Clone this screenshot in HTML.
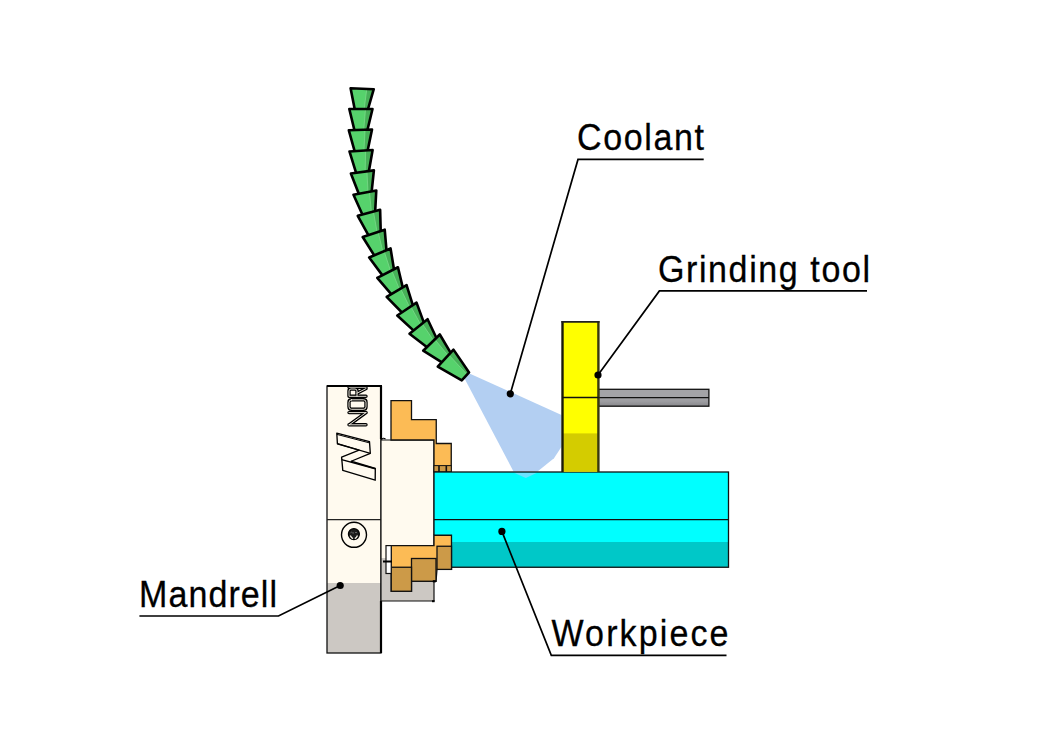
<!DOCTYPE html>
<html><head><meta charset="utf-8"><style>
html,body{margin:0;padding:0;background:#fff;width:1052px;height:744px;overflow:hidden}
svg{display:block}
text{font-family:"Liberation Sans",sans-serif;}
</style></head><body>
<svg width="1052" height="744" viewBox="0 0 1052 744">
<rect width="1052" height="744" fill="#fff"/>
<!-- mandrel -->
<rect x="327" y="386" width="54" height="267" fill="#fffaef"/>
<rect x="327" y="583" width="54" height="70" fill="#ccc8c3"/>
<rect x="327" y="386" width="54" height="267" fill="none" stroke="#111" stroke-width="1.3"/>
<line x1="381" y1="386" x2="381" y2="439" stroke="#000" stroke-width="2.2"/>
<line x1="381" y1="601" x2="381" y2="653" stroke="#000" stroke-width="2.2"/>
<line x1="327" y1="519.6" x2="434" y2="519.6" stroke="#222" stroke-width="1.2"/>
<!-- second block -->
<rect x="381" y="440" width="53" height="118" fill="#fffaef"/>
<rect x="381" y="558" width="53" height="43" fill="#ccc8c3"/>
<polyline points="381,440 434,440 434,535" fill="none" stroke="#111" stroke-width="1.2"/>
<polyline points="381,601 434,601 434,581" fill="none" stroke="#111" stroke-width="1.2"/>
<line x1="381" y1="439" x2="381" y2="601" stroke="#111" stroke-width="1.2"/>
<!-- logo N -->
<polygon points="336.8,433.2 369.5,441.7 370.3,453.3 351.2,461.25 375.3,468.5 375.2,480.2 342.8,470.4 341.6,457.1 359.1,450.2 337.4,443.75" fill="none" stroke="#000" stroke-width="1.35" stroke-linejoin="round"/>
<polyline points="337.4,443.75 370.3,453.3" stroke="#000" stroke-width="1.3"/>
<polyline points="341.6,459.6 375.3,468.8" stroke="#000" stroke-width="1.5"/>
<polyline points="336.9,434.4 369.5,442.9" stroke="#000" stroke-width="1.0"/>
<defs><clipPath id="mc"><rect x="327" y="386" width="54" height="60"/></clipPath></defs>
<g clip-path="url(#mc)" fill="none" stroke-linejoin="round" stroke-linecap="round"><path d="M366,412.6 H349 M366,412.6 L349.2,424.8 M366,424.8 H349 M351.5,399.8 H363.5 Q366,399.8 366,402.3 V406.8 Q366,409.3 363.5,409.3 H351.5 Q349,409.3 349,406.8 V402.3 Q349,399.8 351.5,399.8 Z M366,396.3 H349 V391 Q349,389 351,389 H355 Q357,389 357,391 V396.3 M357,393.2 L366,388.6 M366,387.2 H349" stroke="#000" stroke-width="3.4"/><path d="M366,412.6 H349 M366,412.6 L349.2,424.8 M366,424.8 H349 M351.5,399.8 H363.5 Q366,399.8 366,402.3 V406.8 Q366,409.3 363.5,409.3 H351.5 Q349,409.3 349,406.8 V402.3 Q349,399.8 351.5,399.8 Z M366,396.3 H349 V391 Q349,389 351,389 H355 Q357,389 357,391 V396.3 M357,393.2 L366,388.6 M366,387.2 H349" stroke="#fffaef" stroke-width="0.9"/></g>
<line x1="327" y1="386" x2="382" y2="386" stroke="#000" stroke-width="2.2"/>
<!-- screw -->
<circle cx="354" cy="534.8" r="12.5" fill="none" stroke="#000" stroke-width="1.4"/>
<circle cx="353.9" cy="534.1" r="5.5" fill="#1c1c1c" stroke="#000" stroke-width="1.2"/>
<path d="M350.3,535.4 Q351.2,537.8 353,538.6 M357.5,535.4 Q356.6,537.8 354.8,538.6" stroke="#f4f0e6" stroke-width="1.3" fill="none"/>
<path d="M350.5,532.8 q1,-1.2 2,0 M353.2,532.2 v1.5 M355,532.8 q1,-1.2 2,0" stroke="#999" stroke-width="0.6" fill="none"/>
<!-- orange upper -->
<polygon points="391,400.6 411.5,400.6 411.5,419.6 436.25,419.6 436.25,443.5 451.25,443.5 451.25,471.9 434,471.9 434,440 391,440" fill="#fcbb55" stroke="#111" stroke-width="1.3"/>
<rect x="434" y="465.6" width="17.25" height="6.3" fill="#cc9a48" stroke="#111" stroke-width="1"/>
<line x1="439" y1="466" x2="439" y2="472" stroke="#111" stroke-width="1.6"/>
<line x1="446.3" y1="466" x2="446.3" y2="472" stroke="#111" stroke-width="1.6"/>
<polygon points="464,377.5 469.5,373.5 561.5,415 561.5,446.7 554,458.3 537.5,471.5 513.5,471.5" fill="#b3cff2"/>
<!-- workpiece -->
<rect x="434" y="472" width="294.5" height="95.25" fill="#00ffff"/>
<rect x="434" y="542" width="294.5" height="25.25" fill="#00c8c8"/>
<polygon points="513.5,472.6 537.5,472.6 525.8,478" fill="#6ae3ff"/>
<rect x="434" y="472" width="294.5" height="95.25" fill="none" stroke="#111" stroke-width="1.3"/>
<line x1="434" y1="519.6" x2="728.5" y2="519.6" stroke="#111" stroke-width="1.3"/>
<!-- orange lower -->
<polygon points="434,535.25 451.5,535.25 451.5,569.4 437,569.4 436,581.25 411.5,581.25 411.5,591.25 391.25,591.25 391.25,545.6 434,545.6" fill="#fcbb55" stroke="#111" stroke-width="1.3"/>
<rect x="437" y="546.25" width="14.5" height="23.15" fill="#cc9a48" stroke="#111" stroke-width="1.3"/>
<rect x="411.5" y="558.5" width="24.5" height="22.75" fill="#cc9a48" stroke="#111" stroke-width="1.3"/>
<rect x="391.25" y="567.25" width="20.25" height="24" fill="#cc9a48" stroke="#111" stroke-width="1.3"/>
<rect x="386" y="545.6" width="5.25" height="27.9" fill="#fff" stroke="#111" stroke-width="1.2"/>
<line x1="383" y1="561.5" x2="392" y2="561.5" stroke="#000" stroke-width="2"/>
<rect x="432.8" y="580.2" width="3" height="2.2" fill="#000"/>
<rect x="432" y="600.2" width="2.6" height="2" fill="#000"/>
<path d="M381.5,439.6 Q383,437.2 385.5,439" stroke="#000" stroke-width="1.2" fill="none"/>
<!-- grinding tool -->
<rect x="598.5" y="389.3" width="110.4" height="8.25" fill="#a3a3a7"/>
<defs><linearGradient id="gb" x1="0" y1="0" x2="0" y2="1"><stop offset="0" stop-color="#a4a4a8"/><stop offset="0.45" stop-color="#9c9ca0"/><stop offset="1" stop-color="#88888c"/></linearGradient></defs>
<rect x="598.5" y="397.55" width="110.4" height="8.65" fill="url(#gb)"/>
<rect x="598.5" y="389.3" width="110.4" height="16.9" fill="none" stroke="#111" stroke-width="1.3"/>
<line x1="598.5" y1="397.55" x2="708.9" y2="397.55" stroke="#111" stroke-width="1.3"/>
<rect x="562" y="321.4" width="36.7" height="150.2" fill="#ffff00"/>
<rect x="562" y="433.4" width="36.7" height="38.2" fill="#d4cc00"/>
<line x1="562.5" y1="321" x2="562.5" y2="472" stroke="#1a1a0a" stroke-width="2.4"/>
<line x1="598.4" y1="321" x2="598.4" y2="472" stroke="#38380e" stroke-width="2.4"/>
<line x1="561.5" y1="321.8" x2="599.5" y2="321.8" stroke="#222" stroke-width="1.8"/>
<line x1="562" y1="397.5" x2="598.7" y2="397.5" stroke="#111" stroke-width="1.3"/>
<!-- spray -->

<!-- nozzle -->
<g><polygon points="350.58,88.19 373.76,89.21 366.45,114.51 355.66,114.04" fill="#56d26c"/><polygon points="366.81,88.90 373.76,89.21 366.45,114.51 363.48,114.38" fill="#47b058"/><line x1="366.81" y1="88.90" x2="363.48" y2="114.38" stroke="#80dc8e" stroke-width="0.7"/><polygon points="350.58,88.19 373.76,89.21 366.45,114.51 355.66,114.04" fill="none" stroke="#000" stroke-width="2.6" stroke-linejoin="round"/></g>
<g><polygon points="349.30,109.00 372.50,109.00 366.30,134.60 355.50,134.60" fill="#56d26c"/><polygon points="365.54,109.00 372.50,109.00 366.30,134.60 363.33,134.60" fill="#47b058"/><line x1="365.54" y1="109.00" x2="363.33" y2="134.60" stroke="#80dc8e" stroke-width="0.7"/><polygon points="349.30,109.00 372.50,109.00 366.30,134.60 355.50,134.60" fill="none" stroke="#000" stroke-width="2.6" stroke-linejoin="round"/></g>
<g><polygon points="348.83,130.28 372.02,129.52 366.67,155.31 355.87,155.66" fill="#56d26c"/><polygon points="365.06,129.75 372.02,129.52 366.67,155.31 363.70,155.40" fill="#47b058"/><line x1="365.06" y1="129.75" x2="363.70" y2="155.40" stroke="#80dc8e" stroke-width="0.7"/><polygon points="348.83,130.28 372.02,129.52 366.67,155.31 355.87,155.66" fill="none" stroke="#000" stroke-width="2.6" stroke-linejoin="round"/></g>
<g><polygon points="349.47,151.43 372.62,149.97 368.04,175.91 357.26,176.59" fill="#56d26c"/><polygon points="365.67,150.41 372.62,149.97 368.04,175.91 365.08,176.10" fill="#47b058"/><line x1="365.67" y1="150.41" x2="365.08" y2="176.10" stroke="#80dc8e" stroke-width="0.7"/><polygon points="349.47,151.43 372.62,149.97 368.04,175.91 357.26,176.59" fill="none" stroke="#000" stroke-width="2.6" stroke-linejoin="round"/></g>
<g><polygon points="350.89,173.48 373.89,170.41 371.13,196.60 360.43,198.03" fill="#56d26c"/><polygon points="366.99,171.33 373.89,170.41 371.13,196.60 368.19,197.00" fill="#47b058"/><line x1="366.99" y1="171.33" x2="368.19" y2="197.00" stroke="#80dc8e" stroke-width="0.7"/><polygon points="350.89,173.48 373.89,170.41 371.13,196.60 360.43,198.03" fill="none" stroke="#000" stroke-width="2.6" stroke-linejoin="round"/></g>
<g><polygon points="353.48,194.72 376.28,190.45 374.90,216.76 364.28,218.74" fill="#56d26c"/><polygon points="369.44,191.73 376.28,190.45 374.90,216.76 371.98,217.30" fill="#47b058"/><line x1="369.44" y1="191.73" x2="371.98" y2="217.30" stroke="#80dc8e" stroke-width="0.7"/><polygon points="353.48,194.72 376.28,190.45 374.90,216.76 364.28,218.74" fill="none" stroke="#000" stroke-width="2.6" stroke-linejoin="round"/></g>
<g><polygon points="357.74,215.82 380.13,209.73 380.86,236.06 370.43,238.90" fill="#56d26c"/><polygon points="373.41,211.56 380.13,209.73 380.86,236.06 377.99,236.84" fill="#47b058"/><line x1="373.41" y1="211.56" x2="377.99" y2="236.84" stroke="#80dc8e" stroke-width="0.7"/><polygon points="357.74,215.82 380.13,209.73 380.86,236.06 370.43,238.90" fill="none" stroke="#000" stroke-width="2.6" stroke-linejoin="round"/></g>
<g><polygon points="362.72,237.04 384.72,229.68 386.97,255.93 376.72,259.35" fill="#56d26c"/><polygon points="378.12,231.89 384.72,229.68 386.97,255.93 384.15,256.87" fill="#47b058"/><line x1="378.12" y1="231.89" x2="384.15" y2="256.87" stroke="#80dc8e" stroke-width="0.7"/><polygon points="362.72,237.04 384.72,229.68 386.97,255.93 376.72,259.35" fill="none" stroke="#000" stroke-width="2.6" stroke-linejoin="round"/></g>
<g><polygon points="369.19,257.46 390.56,248.43 394.81,274.43 384.86,278.63" fill="#56d26c"/><polygon points="384.15,251.14 390.56,248.43 394.81,274.43 392.07,275.58" fill="#47b058"/><line x1="384.15" y1="251.14" x2="392.07" y2="275.58" stroke="#80dc8e" stroke-width="0.7"/><polygon points="369.19,257.46 390.56,248.43 394.81,274.43 384.86,278.63" fill="none" stroke="#000" stroke-width="2.6" stroke-linejoin="round"/></g>
<g><polygon points="377.28,277.79 397.95,267.26 404.05,292.88 394.43,297.79" fill="#56d26c"/><polygon points="391.75,270.42 397.95,267.26 404.05,292.88 401.41,294.23" fill="#47b058"/><line x1="391.75" y1="270.42" x2="401.41" y2="294.23" stroke="#80dc8e" stroke-width="0.7"/><polygon points="377.28,277.79 397.95,267.26 404.05,292.88 394.43,297.79" fill="none" stroke="#000" stroke-width="2.6" stroke-linejoin="round"/></g>
<g><polygon points="386.66,296.96 406.56,285.04 414.39,310.19 405.12,315.74" fill="#56d26c"/><polygon points="400.59,288.62 406.56,285.04 414.39,310.19 411.84,311.72" fill="#47b058"/><line x1="400.59" y1="288.62" x2="411.84" y2="311.72" stroke="#80dc8e" stroke-width="0.7"/><polygon points="386.66,296.96 406.56,285.04 414.39,310.19 405.12,315.74" fill="none" stroke="#000" stroke-width="2.6" stroke-linejoin="round"/></g>
<g><polygon points="397.25,315.53 416.53,302.63 425.62,327.35 416.64,333.36" fill="#56d26c"/><polygon points="410.75,306.50 416.53,302.63 425.62,327.35 423.15,329.00" fill="#47b058"/><line x1="410.75" y1="306.50" x2="423.15" y2="329.00" stroke="#80dc8e" stroke-width="0.7"/><polygon points="397.25,315.53 416.53,302.63 425.62,327.35 416.64,333.36" fill="none" stroke="#000" stroke-width="2.6" stroke-linejoin="round"/></g>
<g><polygon points="409.50,333.71 427.58,319.18 438.79,343.01 430.37,349.78" fill="#56d26c"/><polygon points="422.15,323.54 427.58,319.18 438.79,343.01 436.47,344.87" fill="#47b058"/><line x1="422.15" y1="323.54" x2="436.47" y2="344.87" stroke="#80dc8e" stroke-width="0.7"/><polygon points="409.50,333.71 427.58,319.18 438.79,343.01 430.37,349.78" fill="none" stroke="#000" stroke-width="2.6" stroke-linejoin="round"/></g>
<g><polygon points="423.19,350.70 439.79,334.50 453.23,357.15 445.50,364.69" fill="#56d26c"/><polygon points="434.81,339.36 439.79,334.50 453.23,357.15 451.11,359.23" fill="#47b058"/><line x1="434.81" y1="339.36" x2="451.11" y2="359.23" stroke="#80dc8e" stroke-width="0.7"/><polygon points="423.19,350.70 439.79,334.50 453.23,357.15 445.50,364.69" fill="none" stroke="#000" stroke-width="2.6" stroke-linejoin="round"/></g>
<g><polygon points="437.76,366.71 453.47,349.64 469.07,372.41 461.76,380.36" fill="#56d26c"/><polygon points="448.76,354.76 453.47,349.64 469.07,372.41 467.06,374.59" fill="#47b058"/><line x1="448.76" y1="354.76" x2="467.06" y2="374.59" stroke="#80dc8e" stroke-width="0.7"/><polygon points="437.76,366.71 453.47,349.64 469.07,372.41 461.76,380.36" fill="none" stroke="#000" stroke-width="2.6" stroke-linejoin="round"/></g>
<!-- leaders -->
<g stroke="#000" stroke-width="1.7" fill="none">
<polyline points="703.7,159.4 578,159.4 510.3,393.8"/>
<polyline points="867,290.9 659.4,290.9 598,375"/>
<polyline points="139.4,616 278.5,616 340.2,585.5"/>
<polyline points="726.5,655.4 551.3,655.4 501.9,531.4"/>
</g>
<g fill="#000">
<circle cx="510.3" cy="393.8" r="3.6"/>
<circle cx="598" cy="375" r="3.6"/>
<circle cx="340.2" cy="585.5" r="3.6"/>
<circle cx="501.9" cy="531.4" r="3.6"/>
</g>
<g font-size="37" fill="#000" stroke="#000" stroke-width="0.3">
<text transform="translate(577,149.8) scale(0.92,1)" x="0" y="0" textLength="138.04" lengthAdjust="spacing">Coolant</text>
<text transform="translate(658,281.75) scale(0.92,1)" x="0" y="0" textLength="230.43" lengthAdjust="spacing">Grinding tool</text>
<text transform="translate(139,607) scale(0.92,1)" x="0" y="0" textLength="150.00" lengthAdjust="spacing">Mandrell</text>
<text transform="translate(551.5,645.9) scale(0.92,1)" x="0" y="0" textLength="192.39" lengthAdjust="spacing">Workpiece</text>
</g>
</svg>
</body></html>
